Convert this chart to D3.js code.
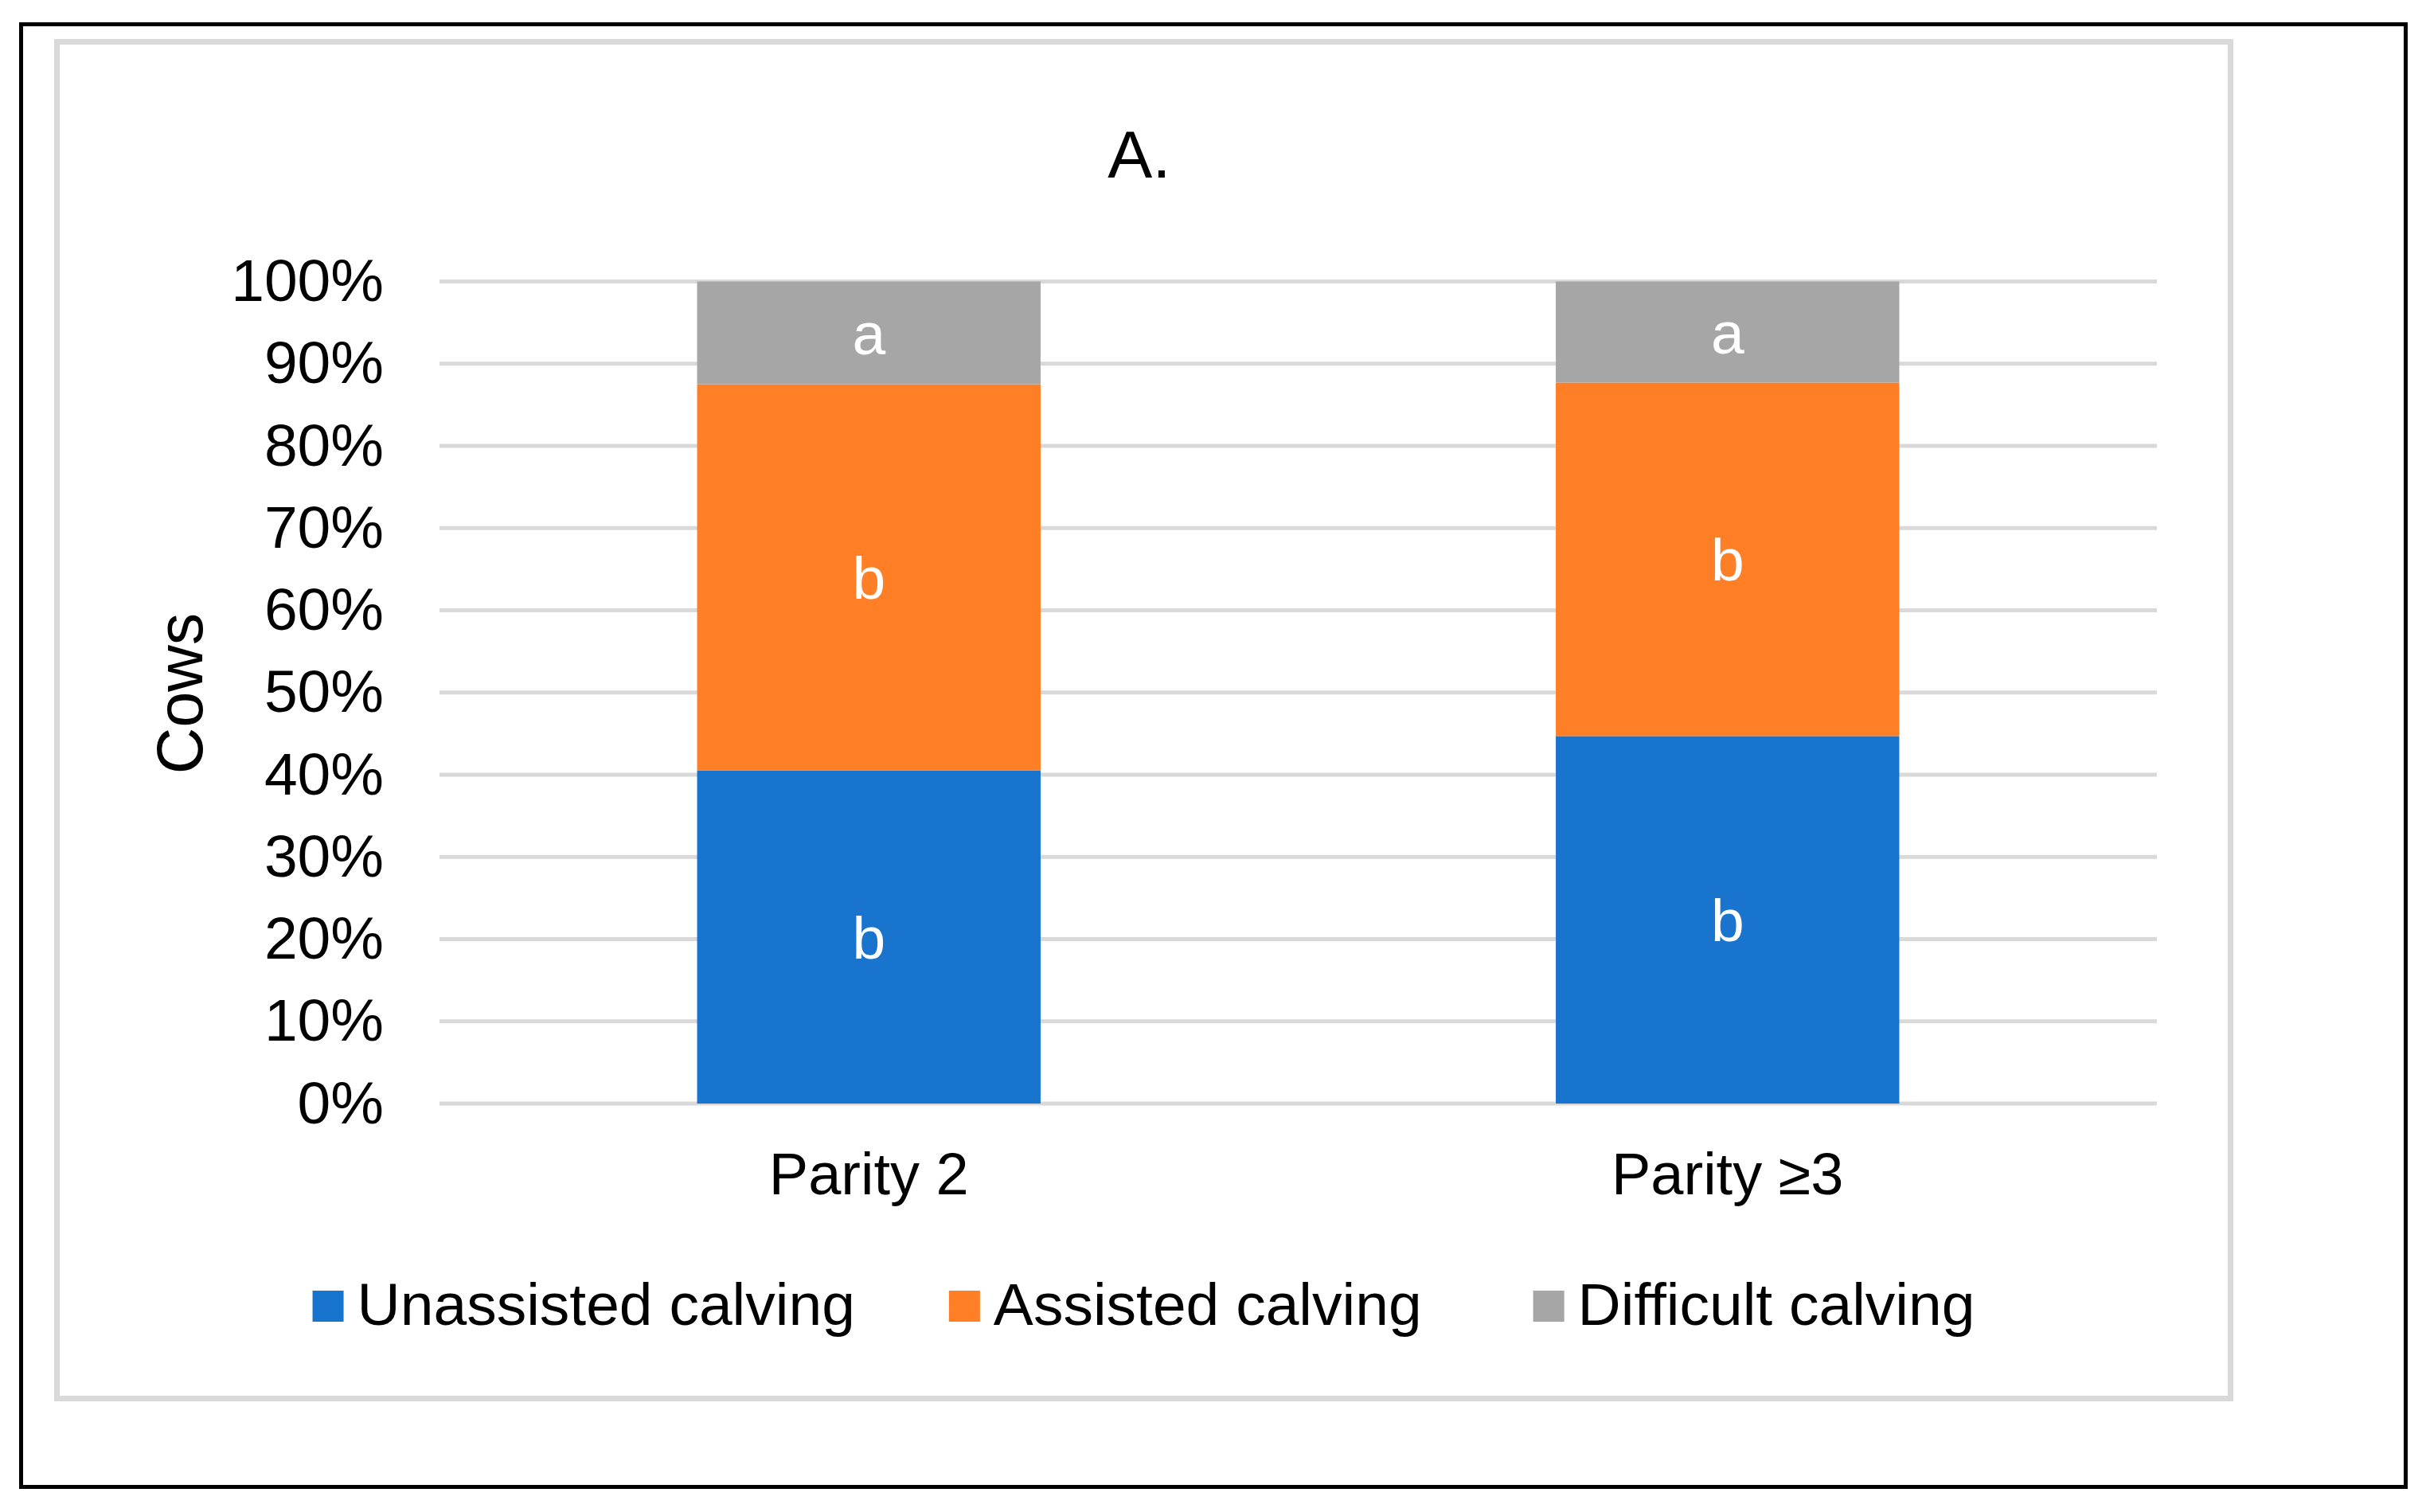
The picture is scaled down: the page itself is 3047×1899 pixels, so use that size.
<!DOCTYPE html>
<html>
<head>
  <meta charset="utf-8">
  <title>Calving by parity</title>
  <script src="https://d3js.org/d3.v7.min.js"></script>
  <style>
    body { margin: 0; background: #fff; }
    text { font-family: "Liberation Sans", Arial, sans-serif; }
  </style>
</head>
<body>
<script>
// data (percent of cows)
var categories = ["Parity 2", "Parity \u22653"];
var seriesNames = ["Unassisted calving", "Assisted calving", "Difficult calving"];
var unassisted = [40.5, 44.7];
var assisted = [47.0, 43.0];
var difficult = [12.5, 12.3];
var letters = [["b", "b"], ["b", "b"], ["a", "a"]];
var yTicks = [0, 10, 20, 30, 40, 50, 60, 70, 80, 90, 100];
var colors = ["#1874cd", "#ff7f27", "#a6a6a6"];

var width = 3047, height = 1899;
var plotLeft = 552, plotRight = 2709, plotTop = 353.5, plotBottom = 1386;

var svg = d3.select("body").append("svg").attr("width", width).attr("height", height);

// outer black frame and chart area border
svg.append("rect").attr("x", 26.5).attr("y", 30.5).attr("width", 2995).attr("height", 1837)
  .attr("fill", "none").attr("stroke", "#000").attr("stroke-width", 5);
svg.append("rect").attr("x", 71.5).attr("y", 52.5).attr("width", 2730).attr("height", 1704)
  .attr("fill", "#fff").attr("stroke", "#d9d9d9").attr("stroke-width", 7);

// scales
var xScale = d3.scaleBand().domain(categories).range([plotLeft, plotRight])
  .paddingInner(0.6).paddingOuter(0.3);
var yScale = d3.scaleLinear().domain([0, 100]).range([plotBottom, plotTop]);

// gridlines
svg.append("g").selectAll("line").data(yTicks).enter().append("line")
  .attr("x1", plotLeft).attr("x2", plotRight)
  .attr("y1", function(d) { return yScale(d); })
  .attr("y2", function(d) { return yScale(d); })
  .attr("stroke", "#d9d9d9").attr("stroke-width", 5);

// y axis labels
var yAxis = svg.append("g").attr("transform", "translate(" + plotLeft + ",0)")
  .call(d3.axisLeft(yScale).tickValues(yTicks).tickSize(0).tickPadding(70)
    .tickFormat(function(d) { return d + "%"; }));
yAxis.select(".domain").remove();
yAxis.selectAll("text").attr("font-size", 75).attr("fill", "#000")
  .attr("font-family", "Liberation Sans, Arial, sans-serif");

// stacked data
var table = categories.map(function(c, i) {
  return { cat: c, s0: unassisted[i], s1: assisted[i], s2: difficult[i] };
});
var stack = d3.stack().keys(["s0", "s1", "s2"]);
var layers = stack(table);

var layerG = svg.append("g").selectAll("g").data(layers).enter().append("g")
  .attr("fill", function(d, i) { return colors[i]; });

layerG.selectAll("rect").data(function(d) { return d; }).enter().append("rect")
  .attr("x", function(d) { return xScale(d.data.cat); })
  .attr("y", function(d) { return yScale(d[1]); })
  .attr("width", xScale.bandwidth())
  .attr("height", function(d) { return yScale(d[0]) - yScale(d[1]); });

// letters in the segments
layers.forEach(function(layer, li) {
  svg.append("g").selectAll("text").data(layer).enter().append("text")
    .attr("x", function(d) { return xScale(d.data.cat) + xScale.bandwidth() / 2; })
    .attr("y", function(d) { return (yScale(d[0]) + yScale(d[1])) / 2 + 27; })
    .attr("text-anchor", "middle").attr("font-size", 75).attr("fill", "#fff")
    .text(function(d, i) { return letters[li][i]; });
});

// x axis labels
var xAxis = svg.append("g").attr("transform", "translate(0," + plotBottom + ")")
  .call(d3.axisBottom(xScale).tickSize(0).tickPadding(0));
xAxis.select(".domain").remove();
xAxis.selectAll("text").attr("font-size", 74).attr("fill", "#000")
  .attr("dy", null).attr("y", 114)
  .attr("font-family", "Liberation Sans, Arial, sans-serif");

// title
svg.append("text").attr("x", 1431).attr("y", 223).attr("text-anchor", "middle")
  .attr("font-size", 84).text("A.");

// y title
svg.append("text").attr("transform", "translate(254,871) rotate(-90)")
  .attr("text-anchor", "middle").attr("font-size", 81).text("Cows");

// legend
var legend = svg.append("g");
var items = legend.selectAll("g").data(seriesNames).enter().append("g");
items.append("rect").attr("width", 39).attr("height", 39).attr("y", 1621)
  .attr("fill", function(d, i) { return colors[i]; });
items.append("text").attr("x", 56).attr("y", 1664).attr("font-size", 75).text(function(d) { return d; });
var gaps = [118, 140, 0], pos = 0, offsets = [];
items.each(function(d, i) {
  offsets.push(pos);
  pos += 56 + d3.select(this).select("text").node().getComputedTextLength() + gaps[i];
});
var start = 1436.5 - pos / 2;
items.attr("transform", function(d, i) { return "translate(" + (start + offsets[i]) + ",0)"; });
</script>
</body>
</html>
